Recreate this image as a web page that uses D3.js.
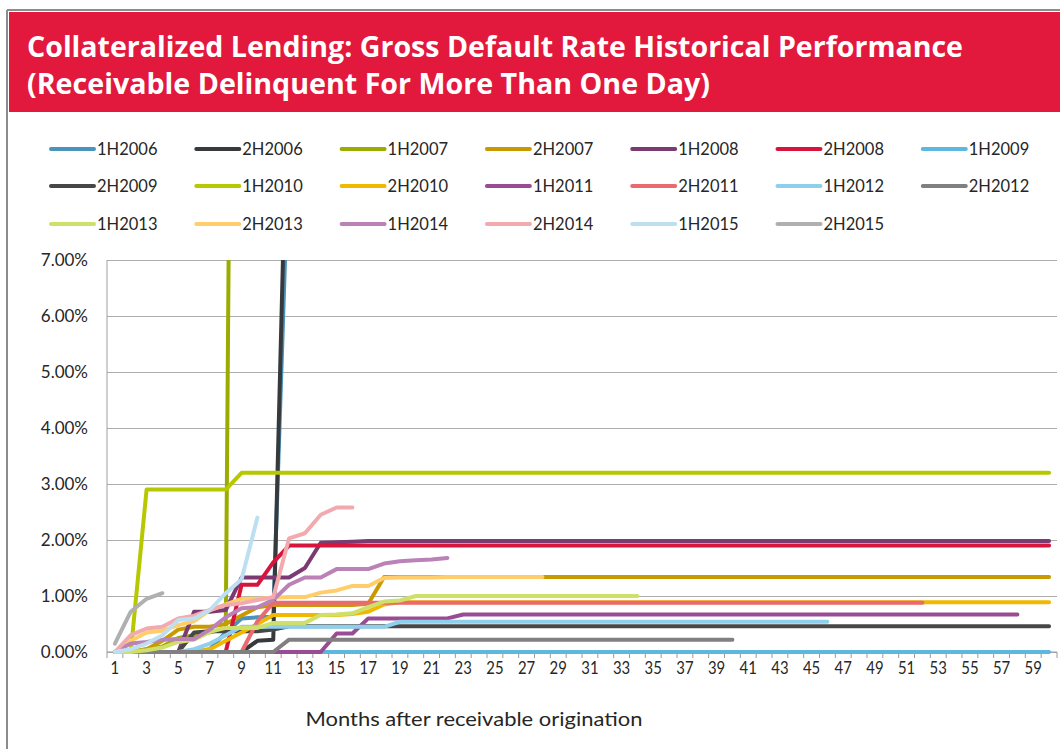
<!DOCTYPE html>
<html>
<head>
<meta charset="utf-8">
<script src="https://cdn.jsdelivr.net/npm/d3@7"></script>
<style>
  body { margin: 0; background: #fff; }
  svg { display: block; }
</style>
</head>
<body>
<svg id="chart" width="1060" height="749"></svg>
<script>
// categories: months after origination
const months = [1,2,3,4,5,6,7,8,9,10,11,12,13,14,15,16,17,18,19,20,
  21,22,23,24,25,26,27,28,29,30,31,32,33,34,35,36,37,38,39,40,
  41,42,43,44,45,46,47,48,49,50,51,52,53,54,55,56,57,58,59,60];
const xTickLabels = [1,3,5,7,9,11,13,15,17,19,21,23,25,27,29,31,33,35,37,39,41,43,45,47,49,51,53,55,57,59];
const yTicks = [0,1,2,3,4,5,6,7];

const seriesNames = ["1H2006","2H2006","1H2007","2H2007","1H2008","2H2008","1H2009",
  "2H2009","1H2010","2H2010","1H2011","2H2011","1H2012","2H2012",
  "1H2013","2H2013","1H2014","2H2014","1H2015","2H2015"];
const seriesColors = ["#4a94bc","#373a3d","#9bac00","#c99a00","#7b3b72","#d7143c","#5db7de",
  "#474747","#b7c800","#f1b800","#994c93","#ea6a70","#8ecfec","#808080",
  "#cfe06a","#ffce6a","#ba82b6","#f2aaae","#bce0f2","#b0b0b0"];

// values in % ; the 2006/1H2007 vintages leave the top of the chart, only read up to there
const v1H2006 = [0,0,0,0,0,0,0.05,0.35,0.6,0.62,0.63,9.2];
const v2H2006 = [0,0,0,0,0,0,0,0,0,0.2,0.22,11.3];
const v1H2007 = [0,0,0.05,0.1,0.25,0.3,0.35,0.42,37];
const v2H2007 = [0,0,0.05,0.2,0.4,0.45,0.45,0.5,0.65,0.8,0.84,0.84,0.84,0.84,0.84,0.84,0.86,
  1.34,1.34,1.34,1.34,1.34,1.34,1.34,1.34,1.34,1.34,
  1.34,1.34,1.34,1.34,1.34,1.34,1.34,1.34,1.34,1.34,
  1.34,1.34,1.34,1.34,1.34,1.34,1.34,1.34,1.34,1.34,
  1.34,1.34,1.34,1.34,1.34,1.34,1.34,1.34,1.34,1.34,
  1.34,1.34,1.34];
const v1H2008 = [0,0,0,0,0,0.72,0.72,0.75,1.33,1.33,1.33,1.33,1.5,1.95,1.96,1.97,1.98,
  1.98,1.98,1.98,1.98,1.98,1.98,1.98,1.98,1.98,1.98,
  1.98,1.98,1.98,1.98,1.98,1.98,1.98,1.98,1.98,1.98,
  1.98,1.98,1.98,1.98,1.98,1.98,1.98,1.98,1.98,1.98,
  1.98,1.98,1.98,1.98,1.98,1.98,1.98,1.98,1.98,1.98,
  1.98,1.98,1.98];
const v2H2008 = [0,0,0,0,0,0,0,0,1.2,1.2,1.6,1.9,
  1.9,1.9,1.9,1.9,1.9,1.9,1.9,1.9,1.9,1.9,
  1.9,1.9,1.9,1.9,1.9,1.9,1.9,1.9,1.9,1.9,
  1.9,1.9,1.9,1.9,1.9,1.9,1.9,1.9,1.9,1.9,
  1.9,1.9,1.9,1.9,1.9,1.9,1.9,1.9,1.9,1.9,
  1.9,1.9,1.9,1.9,1.9,1.9,1.9,1.9];
const v1H2009 = [0,0,0,0,0,0,0,0,0,0,0,0,0,0,0,0,0,0,0,0,
  0,0,0,0,0,0,0,0,0,0,0,0,0,0,0,0,0,0,0,0,
  0,0,0,0,0,0,0,0,0,0,0,0,0,0,0,0,0,0,0,0];
const v2H2009 = [0,0,0,0,0,0.35,0.37,0.37,0.37,0.37,0.4,0.46,
  0.46,0.46,0.46,0.46,0.46,0.46,0.46,0.46,0.46,0.46,
  0.46,0.46,0.46,0.46,0.46,0.46,0.46,0.46,0.46,0.46,
  0.46,0.46,0.46,0.46,0.46,0.46,0.46,0.46,0.46,0.46,
  0.46,0.46,0.46,0.46,0.46,0.46,0.46,0.46,0.46,0.46,
  0.46,0.46,0.46,0.46,0.46,0.46,0.46,0.46];
const v1H2010 = [0,0,2.9,2.9,2.9,2.9,2.9,2.9,
  3.2,3.2,3.2,3.2,3.2,3.2,3.2,3.2,3.2,3.2,
  3.2,3.2,3.2,3.2,3.2,3.2,3.2,3.2,3.2,3.2,
  3.2,3.2,3.2,3.2,3.2,3.2,3.2,3.2,3.2,3.2,
  3.2,3.2,3.2,3.2,3.2,3.2,3.2,3.2,3.2,3.2,
  3.2,3.2,3.2,3.2,3.2,3.2,3.2,3.2,3.2,3.2,
  3.2,3.2];
const v2H2010 = [0,0,0,0,0,0,0.05,0.2,0.35,0.5,0.66,0.66,0.66,0.66,0.66,0.68,0.72,0.85,0.89,
  0.89,0.89,0.89,0.89,0.89,0.89,0.89,0.89,0.89,0.89,
  0.89,0.89,0.89,0.89,0.89,0.89,0.89,0.89,0.89,0.89,
  0.89,0.89,0.89,0.89,0.89,0.89,0.89,0.89,0.89,0.89,
  0.89,0.89,0.89,0.89,0.89,0.89,0.89,0.89,0.89,0.89,
  0.89];
const v1H2011 = [0,0,0,0,0,0,0,0,0,0,0,0,0,0,
  0.33,0.33,0.6,0.6,0.6,0.6,0.6,0.6,
  0.67,0.67,0.67,0.67,0.67,0.67,0.67,0.67,0.67,0.67,
  0.67,0.67,0.67,0.67,0.67,0.67,0.67,0.67,0.67,0.67,
  0.67,0.67,0.67,0.67,0.67,0.67,0.67,0.67,0.67,0.67,
  0.67,0.67,0.67,0.67,0.67,0.67];
const v2H2011 = [0,0,0,0,0,0,0,0,0,0.55,0.88,
  0.88,0.88,0.88,0.88,0.88,0.88,0.88,0.88,0.88,0.88,
  0.88,0.88,0.88,0.88,0.88,0.88,0.88,0.88,0.88,0.88,
  0.88,0.88,0.88,0.88,0.88,0.88,0.88,0.88,0.88,0.88,
  0.88,0.88,0.88,0.88,0.88,0.88,0.88,0.88,0.88,0.88,
  0.88];
const v1H2012 = [0,0,0,0,0,0.05,0.15,0.3,0.45,
  0.45,0.45,0.45,0.45,0.45,0.45,0.45,0.45,0.45,
  0.54,0.54,0.54,0.54,0.54,0.54,0.54,0.54,0.54,0.54,
  0.54,0.54,0.54,0.54,0.54,0.54,0.54,0.54,0.54,0.54,
  0.54,0.54,0.54,0.54,0.54,0.54,0.54,0.54];
const v2H2012 = [0,0,0,0,0,0,0,0,0,0,0,
  0.22,0.22,0.22,0.22,0.22,0.22,0.22,0.22,0.22,0.22,
  0.22,0.22,0.22,0.22,0.22,0.22,0.22,0.22,0.22,0.22,
  0.22,0.22,0.22,0.22,0.22,0.22,0.22,0.22,0.22];
const v1H2013 = [0,0,0.03,0.08,0.18,0.22,0.36,0.43,0.43,0.43,0.52,0.52,0.52,0.66,0.67,0.69,0.8,0.9,0.92,1.0,
  1.0,1.0,1.0,1.0,1.0,1.0,1.0,1.0,1.0,1.0,1.0,1.0,1.0,1.0];
const v2H2013 = [0,0.2,0.35,0.38,0.48,0.55,0.75,0.85,0.95,0.95,0.97,0.98,0.98,1.06,1.1,1.18,1.18,1.32,
  1.33,1.33,1.33,1.34,1.34,1.34,1.34,1.34,1.34,1.34];
const v1H2014 = [0,0.15,0.18,0.22,0.23,0.23,0.4,0.62,0.78,0.8,0.93,1.2,1.33,1.33,1.48,1.48,1.48,1.58,1.62,1.64,1.65,1.68];
const v2H2014 = [0,0.3,0.42,0.45,0.6,0.65,0.75,0.84,0.87,0.93,0.98,2.03,2.12,2.45,2.58,2.58];
const v1H2015 = [0,0.05,0.15,0.3,0.57,0.6,0.75,1.05,1.3,2.4];
const v2H2015 = [0.15,0.72,0.95,1.05];

const seriesValues = [v1H2006,v2H2006,v1H2007,v2H2007,v1H2008,v2H2008,v1H2009,
  v2H2009,v1H2010,v2H2010,v1H2011,v2H2011,v1H2012,v2H2012,
  v1H2013,v2H2013,v1H2014,v2H2014,v1H2015,v2H2015];

const series = seriesNames.map((name, i) => ({ name, color: seriesColors[i], values: seriesValues[i] }));

const svg = d3.select("#chart");
const W = 1060, H = 749;
const plot = { left: 107, right: 1057, top: 260, bottom: 652 };

// frame + red banner
svg.append("line").attr("x1", 7).attr("x2", 7).attr("y1", 10).attr("y2", H)
  .attr("stroke", "#8c8c8c").attr("stroke-width", 2);
svg.append("line").attr("x1", 7).attr("x2", W).attr("y1", 10).attr("y2", 10)
  .attr("stroke", "#8c8c8c").attr("stroke-width", 2);
svg.append("rect").attr("x", 9).attr("y", 12).attr("width", W - 9).attr("height", 100)
  .attr("fill", "#e3183d");

const titleLines = [
  { text: "Collateralized Lending: Gross Default Rate Historical Performance", y: 57, w: 936 },
  { text: "(Receivable Delinquent For More Than One Day)", y: 94, w: 683 }
];
svg.selectAll(".title").data(titleLines).enter().append("text")
  .attr("class", "title")
  .attr("x", 27).attr("y", d => d.y)
  .attr("fill", "#fff")
  .style("font-family", "'Open Sans', sans-serif")
  .style("font-weight", 700)
  .style("font-size", "28px")
  .attr("textLength", d => d.w)
  .attr("lengthAdjust", "spacingAndGlyphs")
  .text(d => d.text);

// legend, 7 columns x 3 rows
const legend = svg.append("g").attr("class", "legend");
const legItem = legend.selectAll("g").data(series).enter().append("g")
  .attr("transform", (d, i) => `translate(${50 + (i % 7) * 145.3},${[149, 186, 224][Math.floor(i / 7)]})`);
legItem.append("line").attr("x1", 1).attr("x2", 44).attr("y1", 0).attr("y2", 0)
  .attr("stroke", d => d.color).attr("stroke-width", 4).attr("stroke-linecap", "round");
legItem.append("text").attr("x", 47).attr("y", 0).attr("dy", "0.35em")
  .style("font-family", "Lato, sans-serif").style("font-size", "16.5px").attr("fill", "#262626")
  .text(d => d.name);

// scales
const xBand = d3.scaleBand().domain(months).range([plot.left, plot.right]).padding(0);
const x = m => xBand(m) + xBand.bandwidth() / 2;
const y = d3.scaleLinear().domain([0, 7]).range([plot.bottom, plot.top]);

// y gridlines + labels
const yAxis = svg.append("g").attr("transform", `translate(${plot.left},0)`)
  .call(d3.axisLeft(y).tickValues(yTicks).tickFormat(d => d.toFixed(2) + "%")
    .tickSize(-(plot.right - plot.left)).tickPadding(19));
yAxis.select(".domain").remove();
yAxis.selectAll(".tick line").attr("stroke", "#aeaeae");
yAxis.selectAll(".tick text").style("font-family", "Lato, sans-serif").style("font-size", "17px").attr("fill", "#262626");

// y axis line
svg.append("line").attr("x1", plot.left).attr("x2", plot.left).attr("y1", plot.top).attr("y2", plot.bottom)
  .attr("stroke", "#a0a0a0");

// x axis: boundary tick marks
const bounds = months.map(m => xBand(m)).concat([plot.right]);
svg.append("g").selectAll("line").data(bounds).enter().append("line")
  .attr("x1", d => d).attr("x2", d => d).attr("y1", plot.bottom).attr("y2", plot.bottom + 6)
  .attr("stroke", "#9a9a9a");
svg.append("line").attr("x1", plot.left).attr("x2", plot.right).attr("y1", plot.bottom).attr("y2", plot.bottom)
  .attr("stroke", "#9a9a9a");

const xAxis = svg.append("g").attr("transform", `translate(0,${plot.bottom})`)
  .call(d3.axisBottom(xBand).tickValues(xTickLabels).tickSize(0).tickPadding(9));
xAxis.select(".domain").remove();
xAxis.selectAll(".tick text").style("font-family", "Lato, sans-serif").style("font-size", "17.5px")
  .attr("fill", "#262626").attr("y", 16).attr("dy", "0.35em")
  .attr("transform", "scale(0.85,1)");
xAxis.selectAll(".tick").attr("transform", d => `translate(${x(d)},0)`);

svg.append("text").attr("x", 474).attr("y", 719).attr("dy", "0.35em")
  .attr("text-anchor", "middle")
  .style("font-family", "Lato, sans-serif").style("font-size", "19px").attr("fill", "#262626")
  .attr("textLength", 337).attr("lengthAdjust", "spacingAndGlyphs")
  .text("Months after receivable origination");

// lines, clipped to plot area
svg.append("clipPath").attr("id", "plotClip").append("rect")
  .attr("x", plot.left).attr("y", plot.top)
  .attr("width", plot.right - plot.left).attr("height", plot.bottom - plot.top + 4);

const line = d3.line().x((d, i) => x(months[i])).y(d => y(d));
svg.append("g").attr("clip-path", "url(#plotClip)")
  .selectAll("path").data(series).enter().append("path")
  .attr("d", d => line(d.values))
  .attr("fill", "none")
  .attr("stroke", d => d.color)
  .attr("stroke-width", 4)
  .attr("stroke-linejoin", "round")
  .attr("stroke-linecap", "round");
</script>
</body>
</html>
